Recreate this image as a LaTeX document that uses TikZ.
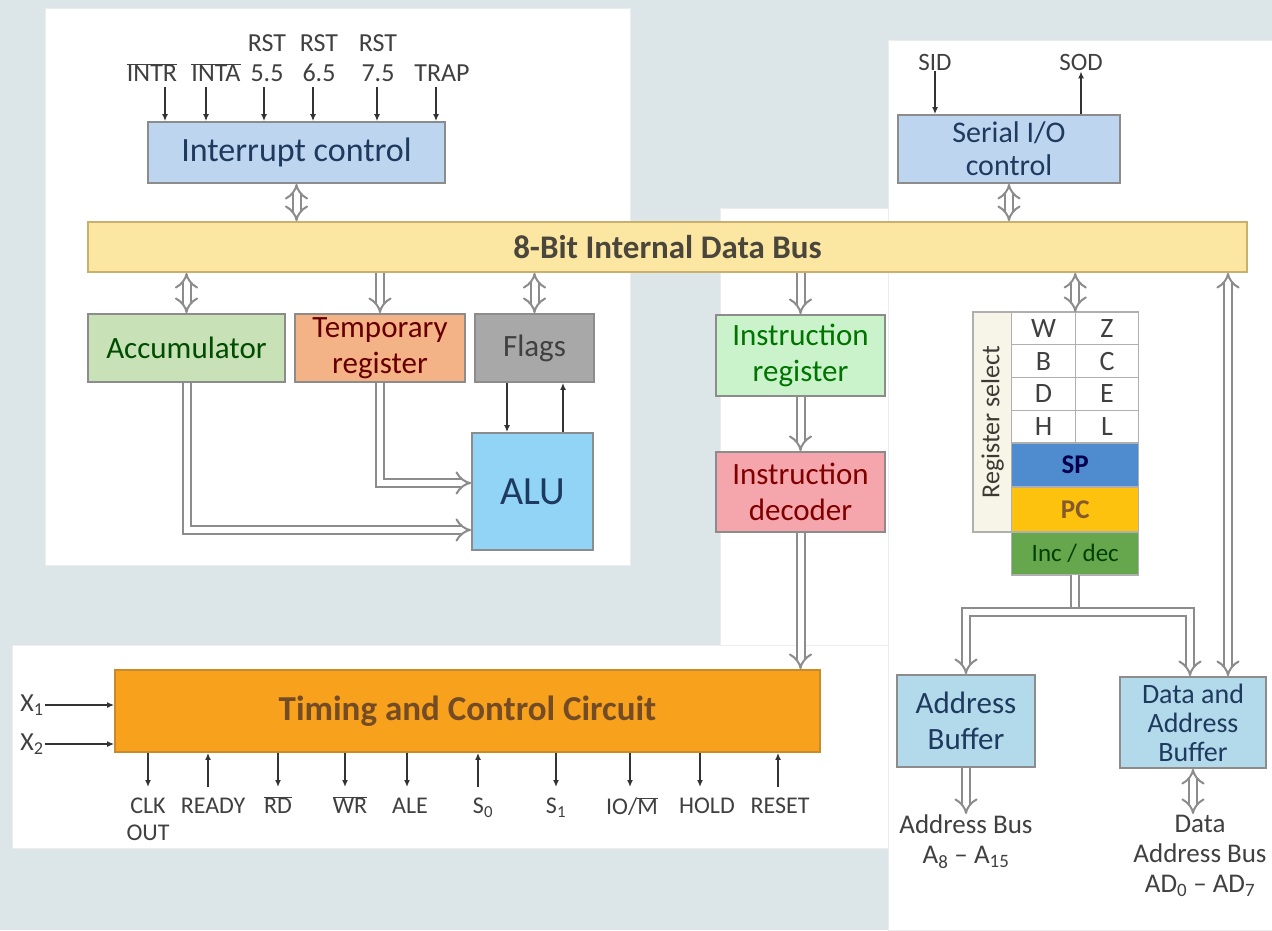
\documentclass[tikz,border=0pt]{standalone}
\usepackage{fontspec}
\setmainfont{Carlito}
\usetikzlibrary{arrows.meta,positioning}
\definecolor{bgblue}{HTML}{DCE5E7}
\definecolor{intblue}{HTML}{BDD5EE}
\definecolor{busyel}{HTML}{FBE6A2}
\definecolor{busedge}{HTML}{C9B06E}
\definecolor{accgreen}{HTML}{C8E1B6}
\definecolor{tmporange}{HTML}{F4B287}
\definecolor{flaggray}{HTML}{A8A8A8}
\definecolor{alublue}{HTML}{91D4F6}
\definecolor{irgreen}{HTML}{CBF3CB}
\definecolor{idpink}{HTML}{F4A6AC}
\definecolor{tccorange}{HTML}{F7A11C}
\definecolor{tccedge}{HTML}{C98A2A}
\definecolor{spblue}{HTML}{4F8BCF}
\definecolor{pcyellow}{HTML}{FDC20E}
\definecolor{incgreen}{HTML}{66A64C}
\definecolor{bufblue}{HTML}{B2DAEA}
\definecolor{selcream}{HTML}{F7F5E8}
\definecolor{linegray}{HTML}{8C8C8C}
\definecolor{navy}{HTML}{1F3A5F}
\tikzset{%
	blk/.style    = {draw=linegray, line width=1.8pt, rectangle, align=center, inner sep=2pt, font=\fontsize{31}{36}\selectfont},
	cell/.style   = {draw=linegray!70, line width=1.2pt, fill=white, minimum width=63.5pt, minimum height=32.75pt, inner sep=0pt, outer sep=0pt, font=\fontsize{28}{30}\selectfont, text=black!75},
	reg/.style    = {draw=linegray!70, line width=1.2pt, minimum width=127pt, inner sep=0pt, outer sep=0pt, font=\bfseries\fontsize{27}{30}\selectfont},
	buslink/.style= {draw=linegray, line width=2pt, double=white, double distance=6pt},
	sig/.style    = {line width=1.6pt, black!80, -{Latex[length=7pt,width=6pt]}},
	lbl/.style    = {inner sep=1pt, align=center, text=black!75, font=\fontsize{25}{29}\selectfont},
	tpin/.style   = {lbl, anchor=south, text depth=3pt, font=\fontsize{26}{30}\selectfont},
	bpin/.style   = {lbl, anchor=north, font=\fontsize{24}{27}\selectfont},
	panel/.style  = {fill=white, draw=black!7},
}
\newcommand{\ovl}[1]{\rlap{\smash{$\overline{\hbox{\phantom{#1}}}$}}#1}

\begin{document}
\begin{tikzpicture}[x=1pt, y=-1pt]
	\useasboundingbox (0,0) rectangle (1272,930);
	\fill[bgblue] (0,0) rectangle (1272,930);
	% white panels
	\path[panel] (45,8) rectangle (630,565);
	\path[panel] (720,208) rectangle (888,650);
	\path[panel] (12,645) rectangle (888,848);
	\path[panel] (888,40) rectangle (1272,930);
	
	% blocks
	\node[blk, fill=intblue, text=navy, minimum width=297pt, minimum height=61pt, font=\fontsize{34}{38}\selectfont] (intc) at (296.5,152.5) {Interrupt control};
	\node[blk, fill=busyel, draw=busedge, text=black!70!yellow!60!black, minimum width=1159pt, minimum height=50pt, font=\bfseries\fontsize{33}{36}\selectfont] (bus) at (667.5,247) {8-Bit Internal Data Bus};
	\node[blk, fill=accgreen, text=green!30!black, minimum width=197pt, minimum height=68pt] (acc) at (186.5,348) {Accumulator};
	\node[blk, fill=tmporange, text=red!40!black, minimum width=170pt, minimum height=68pt] (tmp) at (380,348) {Temporary\\register};
	\node[blk, fill=flaggray, text=black!75, minimum width=119pt, minimum height=68pt] (flags) at (534.5,348) {Flags};
	\node[blk, fill=alublue, text=navy, minimum width=121pt, minimum height=117pt, font=\fontsize{40}{44}\selectfont] (alu) at (532.5,491.5) {ALU};
	\node[blk, fill=irgreen, text=green!45!black, minimum width=169pt, minimum height=81pt] (ireg) at (800.5,355.5) {Instruction\\register};
	\node[blk, fill=idpink, text=red!50!black, minimum width=169pt, minimum height=80pt] (idec) at (800.5,492) {Instruction\\decoder};
	\node[blk, fill=tccorange, draw=tccedge, text=brown!60!black, minimum width=705pt, minimum height=82pt, font=\bfseries\fontsize{35}{38}\selectfont] (tcc) at (467.5,711) {Timing and Control Circuit};
	\node[blk, fill=intblue, text=navy, minimum width=222pt, minimum height=68pt, font=\fontsize{30}{33}\selectfont] (sio) at (1009,149) {Serial I/O\\control};
	\node[blk, fill=bufblue, text=navy, minimum width=138pt, minimum height=92pt] (abuf) at (966,721) {Address\\Buffer};
	\node[blk, fill=bufblue, text=navy, minimum width=146pt, minimum height=91pt, inner sep=0pt, font=\fontsize{28}{29}\selectfont] (dbuf) at (1193,722.5) {Data and\\Address\\Buffer};
	
	% register array
	\node[draw=linegray!70, line width=1.2pt, fill=selcream, rotate=90, minimum width=220pt, minimum height=39pt, inner sep=0pt, text=black!70!yellow!40!black, font=\fontsize{26}{28}\selectfont] (rsel) at (992.5,422) {Register select};
	\foreach \a/\b [count=\i] in {W/Z,B/C,D/E,H/L} {
		\node[cell] (r\i a) at (1043.5,{295.625+32.75*\i}) {\a};
		\node[cell, right=0pt of r\i a] (r\i b) {\b};
	}
	\node[reg, fill=spblue, text=blue!30!black, minimum height=44pt, below=0pt of r4a.south east] (sp) {SP};
	\node[reg, fill=pcyellow, text=brown!70!black, minimum height=45pt, below=0pt of sp] (pc) {PC};
	\node[reg, fill=incgreen, text=green!25!black, minimum height=43pt, below=0pt of pc, font=\fontsize{25}{28}\selectfont] (incdec) {Inc / dec};
	
	% interrupt pins
	\foreach \lx/\px/\txt [count=\i] in {152/165/{\ovl{INTR}}, 216/206/{\ovl{INTA}}, 267/264/{RST\\5.5}, 319/313/{RST\\6.5}, 378/377/{RST\\7.5}, 442/436/TRAP} {
		\node[tpin] (ipin\i) at (\lx,86) {\txt};
		\coordinate (ipc\i) at (\px,87);
		\draw[sig] (ipc\i) -- (ipc\i |- intc.north);
	}
	
	% serial pins
	\node[lbl] (sid) at (935,62) {SID};
	\node[lbl] (sod) at (1081,62) {SOD};
	\draw[sig] (sid.south) -- (sid.south |- sio.north);
	\draw[sig] (sod.south |- sio.north) -- (sod.south);
	
	% clock inputs
	\node[lbl, font=\fontsize{26}{30}\selectfont] (x1) at (32,705) {X\textsubscript{1}};
	\node[lbl, font=\fontsize{26}{30}\selectfont] (x2) at (32,744) {X\textsubscript{2}};
	\draw[sig] (x1.east) -- (x1.east -| tcc.west);
	\draw[sig] (x2.east) -- (x2.east -| tcc.west);
	
	% control outputs
	\foreach \lx/\px/\txt [count=\i] in {148/148/{CLK\\OUT}, 278/278/{\ovl{RD}}, 350/345/{\ovl{WR}}, 410/407/ALE, 556/556/{S\textsubscript{1}}, 632/630/{IO/\ovl{M}}, 707/700/HOLD} {
		\node[bpin] (opl\i) at (\lx,797) {\txt};
		\coordinate (opc\i) at (\px,787);
		\draw[sig] (opc\i |- tcc.south) -- (opc\i);
	}
	% control inputs
	\foreach \lx/\px/\txt [count=\i] in {213/208/READY, 483/478/{S\textsubscript{0}}, 780/778/RESET} {
		\node[bpin] (inl\i) at (\lx,797) {\txt};
		\coordinate (inc\i) at (\px,787);
		\draw[sig] (inc\i) -- (inc\i |- tcc.south);
	}
	
	% flags <-> ALU
	\coordinate (fl1) at ([xshift=-27.5pt]flags.south);
	\coordinate (fl2) at ([xshift=28.5pt]flags.south);
	\draw[sig] (fl1) -- (fl1 |- alu.north);
	\draw[sig] (fl2 |- alu.north) -- (fl2);
	
	% internal buses
	\draw[buslink, {Implies}-{Implies}] (intc.south) -- (intc.south |- bus.north);
	\draw[buslink, {Implies}-{Implies}] (sio.south) -- (sio.south |- bus.north);
	\draw[buslink, {Implies}-{Implies}] (bus.south -| acc.north) -- (acc.north);
	\draw[buslink, -{Implies}] (bus.south -| tmp.north) -- (tmp.north);
	\draw[buslink, {Implies}-{Implies}] (bus.south -| flags.north) -- (flags.north);
	\draw[buslink, -{Implies}] (tmp.south) |- ([yshift=8.5pt]alu.west);
	\draw[buslink, -{Implies}] (acc.south) |- ([yshift=-38.5pt]alu.west);
	\draw[buslink, -{Implies}] (bus.south -| ireg.north) -- (ireg.north);
	\draw[buslink, -{Implies}] (ireg) -- (idec);
	\draw[buslink, -{Implies}] (idec.south) -- (idec.south |- tcc.north);
	\draw[buslink, {Implies}-{Implies}] (bus.south -| r1a.north east) -- (r1a.north east);
	
	% address / data buses
	\coordinate (dtap) at ([xshift=35pt]dbuf.north);
	\coordinate (dleft) at ([xshift=-3pt]dbuf.north);
	\coordinate (split) at ([yshift=-37pt]incdec.south);
	\draw[buslink, {Implies}-{Implies}] (bus.south -| dtap) -- (dtap);
	\draw[buslink] (incdec.south) -- (split);
	\draw[buslink, {Implies}-{Implies}] (abuf.north) |- (split) -| (dleft);
	
	\node[lbl, anchor=north, font=\fontsize{27}{30}\selectfont] (abl) at (966,814) {Address Bus\\A\textsubscript{8} -- A\textsubscript{15}};
	\node[lbl, anchor=north, font=\fontsize{27}{30}\selectfont] (dbl) at (1200,814) {Data\\Address Bus\\AD\textsubscript{0} -- AD\textsubscript{7}};
	\draw[buslink, -{Implies}] (abuf.south) -- (abuf.south |- abl.north);
	\draw[buslink, {Implies}-{Implies}] (dbuf.south) -- (dbuf.south |- dbl.north);
\end{tikzpicture}
\end{document}
